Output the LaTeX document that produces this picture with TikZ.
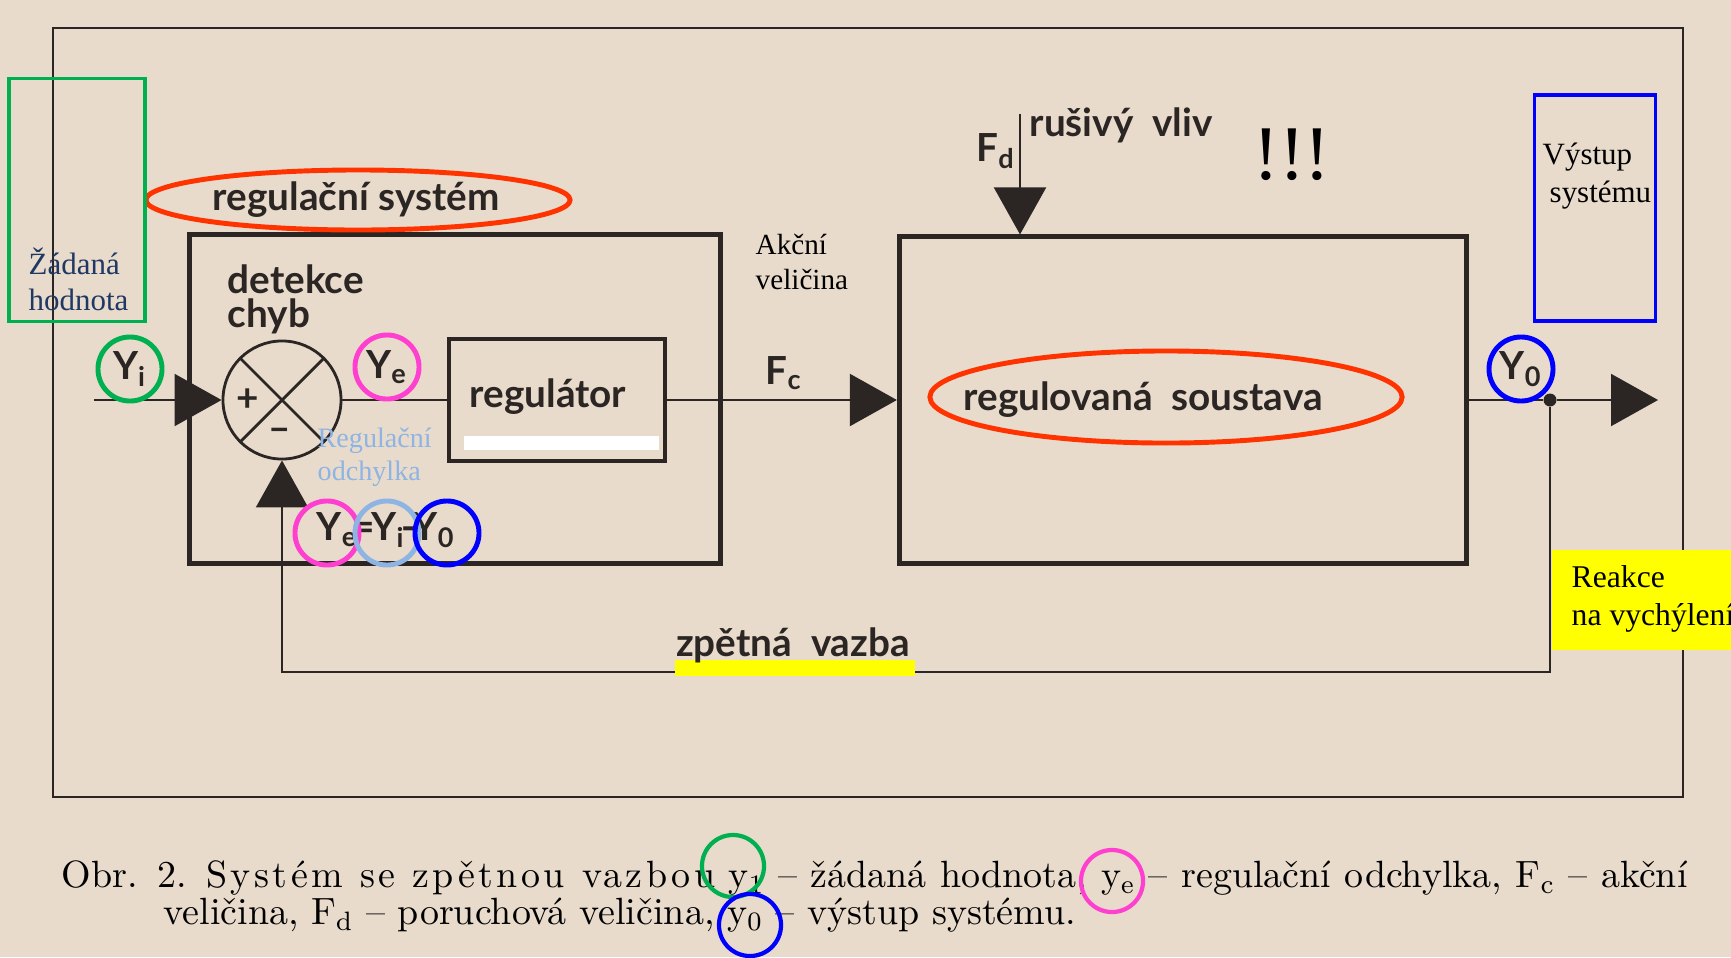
\documentclass[tikz,border=0pt]{standalone}
\usepackage{fontspec}
\setmainfont{Latin Modern Roman}
\newfontfamily\spacedfont{Latin Modern Roman}[LetterSpace=9]
\newfontfamily\gillfont{Lato}
\newfontfamily\timesfont{Liberation Serif}
\usetikzlibrary{arrows.meta, positioning, shapes.geometric}
\definecolor{fbpaper}{HTML}{E8DBCB}
\definecolor{fbink}{HTML}{2B2624}
\definecolor{fbgreen}{HTML}{00B050}
\definecolor{fbred}{HTML}{FF3300}
\definecolor{fbpink}{HTML}{FF3FCF}
\definecolor{fbblue}{HTML}{0000FF}
\definecolor{fbsky}{HTML}{8EB4E3}
\definecolor{fbnavy}{HTML}{1F3864}
\definecolor{fbyellow}{HTML}{FFFF00}
\tikzset{
  blk/.style={draw=fbink, line width=1.4pt, inner sep=0pt},
  sig/.style={draw=fbink, line width=0.6pt},
  arr/.style={-{Triangle[length=4.7mm,width=5.2mm]}},
  lbl/.style={font=\fontsize{11}{9.7}\selectfont\gillfont\bfseries, text=fbink,
              inner sep=0pt, align=left},
  note/.style={font=\fontsize{8.8}{10.2}\selectfont\timesfont, inner sep=0pt, align=left},
  ring/.style={circle, draw=#1, line width=1.4pt, minimum size=0.64cm, inner sep=0pt},
  oval/.style={ellipse, draw=fbred, line width=1.4pt, inner sep=0pt},
  hlbox/.style={draw=#1, line width=1pt, inner sep=0pt},
  captxt/.style={anchor=west, inner sep=0pt, font=\fontsize{10.8}{12}\selectfont}
}
\begin{document}
\begin{tikzpicture}[x=0.01cm, y=-0.01cm]
  \fill[fbpaper] (0,0) rectangle (1731,957);
  \useasboundingbox (0,0) rectangle (1731,957);
  \draw[fbink, line width=0.6pt] (53,28) rectangle (1683,797);

  \node[blk, minimum width=5.30cm, minimum height=3.28cm] (sysbox) at (455,399) {};
  \node[blk, minimum width=5.67cm, minimum height=3.26cm] (plant) at (1183,400) {};
  \node[blk, line width=0.9pt, minimum width=2.16cm, minimum height=1.22cm] (reg) at (557,400) {};
  \fill[white] (464,436) rectangle (659,450);
  \node[circle, draw=fbink, line width=0.8pt, minimum size=1.18cm, inner sep=0pt] (sum) at (282,400) {};
  \draw[fbink, line width=0.8pt] (sum.45) -- (sum.225) (sum.135) -- (sum.315);
  \node[lbl] (plus) at (248,400) {+};
  \node[lbl] (minus) at (280,435) {–};

  \node[lbl, anchor=west] (detekce) at (227,299) {detekce\\chyb};
  \node[lbl] (systxt) at (356,200) {regulační systém};
  \node[oval, minimum width=4.24cm, minimum height=0.6cm] (sysoval) at (358,200) {};
  \node[lbl] (regtxt) at (548,397) {regulátor};
  \node[lbl] (planttxt) at (1143,400) {regulovaná\ \ soustava};
  \node[oval, minimum width=4.72cm, minimum height=0.92cm] (plantoval) at (1166,397) {};

  \coordinate (src) at (94,400);
  \draw[sig, arr] (src) -- (sum.west);
  \draw[sig] (sum.east) -- (reg.west);
  \draw[sig, arr] (reg.east) -- (plant.west);
  \node[lbl] (fc) at (784,373) {F\textsubscript{c}};
  \coordinate (fdtop) at (1020,114);
  \draw[sig, arr] (fdtop) -- (fdtop |- plant.north);
  \node[lbl] (fd) at (996,151) {F\textsubscript{d}};
  \node[lbl, anchor=west] (rusivy) at (1029,125) {rušivý\ \ vliv};
  \node[circle, fill=fbink, minimum size=0.13cm, inner sep=0pt] (tap) at (1550,400) {};
  \coordinate (sink) at (1658,400);
  \draw[sig] (plant.east) -- (tap);
  \draw[sig, arr] (tap) -- (sink);
  \coordinate (fbturn) at (282,672);
  \draw[sig, arr] (tap) |- (fbturn) -- (sum.south);
  \fill[fbyellow] (675,660) rectangle (915,676);
  \node[lbl] (zpet) at (793,645) {zpětná\ \ vazba};

  \node[lbl, ring=fbgreen] (yi) at (130,369) {Y\textsubscript{i}};
  \node[lbl, ring=fbpink] (ye) at (387,367) {Y\textsubscript{e}};
  \node[lbl, ring=fbblue] (yo) at (1521,369) {Y\textsubscript{0}};
  \node[lbl] (eq) at (386,530) {Y\textsubscript{e}\kern-1.5pt=\kern-1pt Y\textsubscript{i}\kern-1pt-\kern-1pt Y\textsubscript{0}};
  \node[ring=fbpink] (eqe) at (327,533) {};
  \node[ring=fbsky] (eqi) at (387,533) {};
  \node[ring=fbblue] (eqo) at (447,533) {};

  \node[hlbox=fbgreen, minimum width=1.36cm, minimum height=2.43cm] (setbox) at (77,200) {};
  \node[note, text=fbnavy, anchor=west] (setnote) at (28,279) {Žádaná\\hodnota};
  \node[note, text=fbsky, font=\fontsize{8}{9.4}\selectfont\timesfont, anchor=west] (errnote) at (317,457) {Regulační\\odchylka};
  \node[note, font=\fontsize{8.3}{10}\selectfont\timesfont, anchor=west] (actnote) at (755,262) {Akční\\veličina};
  \node[hlbox=fbblue, minimum width=1.21cm, minimum height=2.26cm] (outbox) at (1595,208) {};
  \node[note, font=\fontsize{8.8}{11}\selectfont\timesfont, anchor=west] (outnote) at (1542,176) {Výstup\\\hspace*{0.07cm}systému};
  \node[fill=fbyellow, minimum width=1.8cm, minimum height=1.0cm, anchor=north west, inner sep=0pt] (reakbox) at (1551,549) {};
  \node[note, font=\fontsize{9}{11}\selectfont\timesfont, anchor=west] (reaknote) at (1571,599) {Reakce\\na vychýlení};
  \node[font=\fontsize{22}{24}\selectfont\timesfont, inner sep=0pt] (bang) at (1292,155) {!!!};

  \node[captxt] (cap1) at (61,878)
    {\makebox[16.25cm][s]{Obr. 2. {\spacedfont Systém se zpětnou vazbou} y\textsubscript{1} -- žádaná hodnota, y\textsubscript{e} -- regulační odchylka, F\textsubscript{c} -- akční}};
  \node[captxt] (cap2) at (163,915)
    {veličina, F\textsubscript{d} -- poruchová veličina, y\textsubscript{0} -- výstup systému.};
  \node[ring=fbgreen, line width=1.2pt, minimum size=0.62cm] (capi) at (733,866) {};
  \node[ring=fbpink, line width=1.2pt, minimum size=0.62cm] (cape) at (1112,881) {};
  \node[ring=fbblue, line width=1.2pt, minimum size=0.62cm] (capo) at (750,925) {};
\end{tikzpicture}
\end{document}
